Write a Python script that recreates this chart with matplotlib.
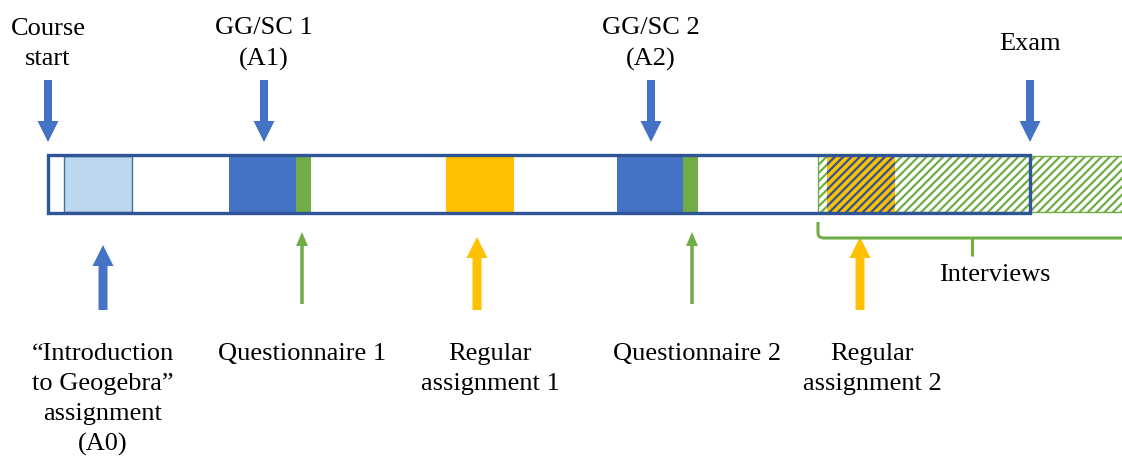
"""Timeline of the course: assignments, questionnaires, interviews and exam."""

import matplotlib.pyplot as plt
from matplotlib.patches import Rectangle, FancyArrow
from matplotlib.path import Path
from matplotlib.patches import PathPatch

plt.rcParams['font.family'] = ['Liberation Serif', 'DejaVu Serif']
plt.rcParams['hatch.linewidth'] = 1.6

# Timeline blocks (start, end) along the course axis
block_names = ['A0', 'A1', 'Q1', 'RA1', 'A2', 'Q2', 'RA2']
block_start = [64, 229, 296, 446, 617, 683, 827]
block_end = [132, 296, 311, 514, 683, 698, 895]
block_colors = ['#BDD7EE', '#4472C4', '#70AD47', '#FFC000', '#4472C4', '#70AD47', '#FFC000']

course_start, course_end = 48, 1030
interview_start, interview_end = 818, 1122

# Top (downward) arrows
top_labels = ['Course\nstart', 'GG/SC 1\n(A1)', 'GG/SC 2\n(A2)', 'Exam']
top_x = [48, 264, 651, 1030]

# Bottom (upward) arrows
bottom_labels = ['\u201cIntroduction\nto Geogebra\u201d\nassignment\n(A0)', 'Questionnaire 1',
                 'Regular\nassignment 1', 'Questionnaire 2', 'Regular\nassignment 2']
bottom_x = [103, 302, 477, 692, 860]
bottom_text_x = [103, 302, 490, 697, 872]
bottom_colors = ['#4472C4', '#70AD47', '#FFC000', '#70AD47', '#FFC000']
bottom_thin = [False, True, False, True, False]

blue = '#4472C4'
green = '#70AD47'
outline = '#2F5597'
fs = 19

fig = plt.figure(figsize=(11.22, 4.57), dpi=100)
ax = fig.add_axes([0, 0, 1, 1])
ax.set_xlim(0, 1122)
ax.set_ylim(457, 0)
ax.axis('off')

bar_top, bar_bot = 156, 212

# white bar background
ax.add_patch(Rectangle((course_start, bar_top), course_end - course_start, bar_bot - bar_top,
                       facecolor='white', edgecolor='none', zorder=1))

# green hatched interview period
ax.add_patch(Rectangle((interview_start, bar_top), interview_end - interview_start + 5, bar_bot - bar_top,
                       facecolor='white', edgecolor=green, hatch='////', lw=1, zorder=2))

# coloured blocks
for name, s, e, c in zip(block_names, block_start, block_end, block_colors):
    if name == 'A0':
        ax.add_patch(Rectangle((s, bar_top), e - s, bar_bot - bar_top,
                               facecolor=c, edgecolor='#41719C', lw=1, zorder=3))
    elif name == 'RA2':
        ax.add_patch(Rectangle((s, bar_top), e - s, bar_bot - bar_top,
                               facecolor=c, edgecolor=outline, hatch='////', lw=0, zorder=3))
    else:
        ax.add_patch(Rectangle((s, bar_top), e - s, bar_bot - bar_top,
                               facecolor=c, edgecolor='none', zorder=3))

# outline of the course
ax.add_patch(Rectangle((course_start, bar_top - 1), course_end - course_start, bar_bot - bar_top + 2,
                       facecolor='none', edgecolor=outline, lw=2.4, zorder=4))

# top arrows and labels
for lab, x in zip(top_labels, top_x):
    ax.add_patch(FancyArrow(x, 80, 0, 62, width=8, head_width=21, head_length=21,
                            length_includes_head=True, color=blue, lw=0, zorder=5))
    ax.text(x, 44, lab, ha='center', va='center', fontsize=fs, linespacing=1.52)

# bottom arrows and labels
for lab, x, tx, c, thin in zip(bottom_labels, bottom_x, bottom_text_x, bottom_colors, bottom_thin):
    if thin:
        ax.add_patch(FancyArrow(x, 304, 0, -72, width=3.5, head_width=12, head_length=14,
                                length_includes_head=True, color=c, lw=0, zorder=5))
    else:
        tip = 245 if x < 200 else 237
        ax.add_patch(FancyArrow(x, 310, 0, tip - 310, width=9, head_width=21, head_length=21,
                                length_includes_head=True, color=c, lw=0, zorder=5))
    ax.text(tx, 343, lab, ha='center', va='top', fontsize=fs, linespacing=1.47)

# interview bracket
verts = [(818, 222), (818, 233), (818, 238), (824, 238), (1122, 238)]
codes = [Path.MOVETO, Path.LINETO, Path.CURVE3, Path.CURVE3, Path.LINETO]
ax.add_patch(PathPatch(Path(verts, codes), facecolor='none', edgecolor=green, lw=2.2, zorder=5))
ax.plot([972, 972], [238, 256], color=green, lw=2.2, solid_capstyle='butt', zorder=5)
ax.text(995, 275, 'Interviews', ha='center', va='center', fontsize=fs)

fig.savefig('out.png', dpi=100)
